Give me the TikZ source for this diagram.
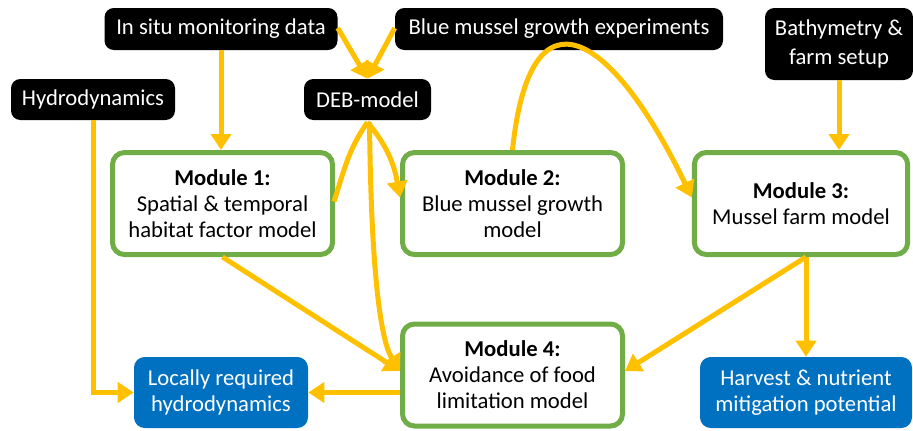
\documentclass[tikz,border=0pt]{standalone}
\usepackage{fontspec}
\setmainfont{Carlito}
\usetikzlibrary{arrows.meta,calc}
\definecolor{ylw}{HTML}{FFC000}
\definecolor{grn}{HTML}{70AD47}
\definecolor{blu}{HTML}{0070C0}
\tikzset{
  blk/.style={fill=black,text=white,rounded corners=7pt,inner sep=0pt,align=center,font=\fontsize{17}{21.5}\selectfont},
  modbox/.style={draw=grn,line width=3.75pt,fill=white,rounded corners=9pt,inner sep=0pt,align=center,font=\fontsize{17}{19.5}\selectfont},
  outbox/.style={fill=blu,text=white,rounded corners=8pt,inner sep=0pt,align=center,font=\fontsize{17}{19.5}\selectfont},
  conn/.style={draw=ylw,line width=3.75pt},
  arr/.style={conn,-{Triangle[width=15pt,length=12pt]}}
}
\begin{document}
\begin{tikzpicture}[x=0.75pt,y=-0.75pt]
\useasboundingbox (0,0) rectangle (913,430);
% black input boxes
\node[blk,minimum width=174.75pt,minimum height=31.5pt] (insitu) at (221,29) {In situ monitoring data};
\node[blk,minimum width=246pt,minimum height=31.5pt] (blue) at (559,29) {Blue mussel growth experiments};
\node[blk,minimum width=111pt,minimum height=54pt] (bathy) at (839,44) {Bathymetry \&\\farm setup};
\node[blk,minimum width=123pt,minimum height=30.75pt] (hydro) at (93,99.5) {Hydrodynamics};
\node[blk,minimum width=95.25pt,minimum height=30.75pt] (deb) at (367.5,99.5) {DEB-model};
% modules
\node[modbox,minimum width=165pt,minimum height=76.5pt] (m1) at (222.5,203.5) {\textbf{Module 1:}\\Spatial \& temporal\\habitat factor model};
\node[modbox,minimum width=165pt,minimum height=76.5pt] (m2) at (512.5,203.5) {\textbf{Module 2:}\\Blue mussel growth\\model};
\node[modbox,minimum width=160pt,minimum height=76.5pt] (m3) at (801,203.5) {\textbf{Module 3:}\\Mussel farm model};
\node[modbox,minimum width=165pt,minimum height=76.5pt] (m4) at (512.5,375) {\textbf{Module 4:}\\Avoidance of food\\limitation model};
% outputs
\node[outbox,minimum width=130.5pt,minimum height=53.25pt] (loc) at (221,392.5) {Locally required\\hydrodynamics};
\node[outbox,minimum width=159pt,minimum height=53.25pt] (harv) at (806,392.5) {Harvest \& nutrient\\mitigation potential};
% connectors
\draw[arr] (insitu.south) -- (insitu.south |- m1.north);
\draw[arr] ($(insitu.east)+(0,-1)$) -- (deb.north);
\draw[arr] ($(blue.west)+(0,-1)$) -- (deb.north);
\draw[arr] (hydro.south) |- (loc.west);
\draw[conn] ($(deb.south)+(0,2)$) to[out=-125,in=72] ($(m1.east)+(-1,-2)$);
\draw[arr] ($(deb.south)+(0,2)$) to[out=-50,in=100] ($(m2.west)+(0,-6)$);
\draw[arr] ($(deb.south)+(2,2)$) .. controls +(2,190) and +(-14,-22) .. ($(m4.west)+(0,-4)$);
\draw[arr] (m1.south) -- ($(m4.west)+(0,-4)$);
\draw[arr] (m2.north) .. controls (530,-20) and (612,32) .. ($(m3.west)+(0,-6)$);
\draw[arr] (bathy.south) -- (bathy.south |- m3.north);
\draw[arr] (harv.north |- m3.south) -- ($(m4.east)+(0,-4)$);
\draw[arr] (harv.north |- m3.south) -- (harv.north);
\draw[arr] (m4.west |- loc.east) -- (loc.east);
\end{tikzpicture}
\end{document}
